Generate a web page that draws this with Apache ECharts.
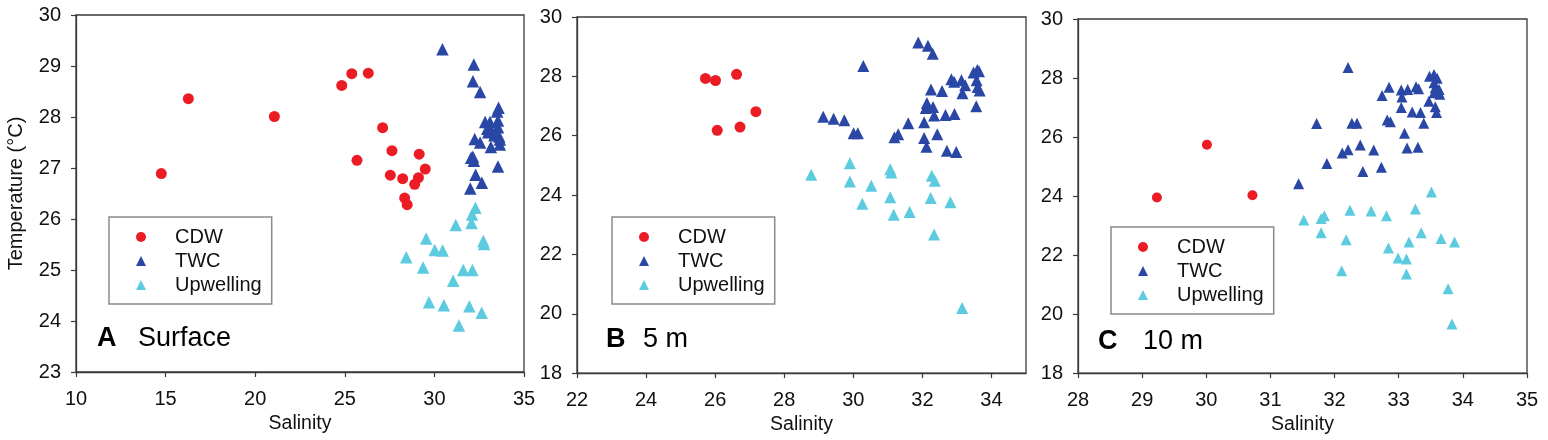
<!DOCTYPE html>
<html>
<head>
<meta charset="utf-8">
<script src="https://cdn.jsdelivr.net/npm/echarts@6/dist/echarts.min.js"></script>
<style>
html,body{margin:0;padding:0;background:#fff;}
#chart{width:1548px;height:440px;}
</style>
</head>
<body>
<div id="chart"></div>
<script>
// ---------- Data (Salinity, Temperature °C) ----------
const seriesNames = ['CDW', 'TWC', 'Upwelling'];
const panelLetters = ['A', 'B', 'C'];
const panelTitles = ['Surface', '5 m', '10 m'];

// Panel A: Surface
const cdwA = [[14.76,26.89],[16.27,28.36],[21.07,28.01],[24.83,28.62],[25.39,28.85],[26.31,28.86],
  [25.68,27.15],[27.11,27.79],[27.63,27.34],[27.54,26.86],[28.23,26.79],[28.34,26.41],[28.48,26.28],
  [29.15,27.27],[29.49,26.98],[29.11,26.81],[28.9,26.68]];
const twcA = [[30.45,29.33],[32.2,29.03],[32.15,28.7],[32.55,28.49],[33.58,28.18],[33.5,28.11],
  [32.83,27.9],[33.1,27.9],[33.55,27.93],[32.95,27.77],[33.2,27.72],[33.4,27.68],[33.55,27.8],
  [33.62,27.62],[33.65,27.56],[33.35,27.64],[33.0,27.7],[32.25,27.57],[32.55,27.5],[33.15,27.41],
  [33.65,27.46],[32.05,27.2],[32.15,27.22],[32.2,27.14],[33.55,27.03],[32.3,26.87],[32.65,26.71],[32.0,26.6]];
const upwA = [[28.43,25.25],[29.54,25.62],[30.02,25.39],[30.46,25.38],[29.37,25.05],[31.19,25.88],
  [32.07,25.92],[32.1,26.09],[32.29,26.22],[32.73,25.57],[32.77,25.51],[31.61,25.0],[32.12,25.0],
  [31.05,24.79],[29.7,24.37],[30.53,24.31],[31.95,24.29],[32.64,24.16],[31.37,23.91]];

// Panel B: 5 m
const cdwB = [[25.72,27.93],[26.01,27.86],[26.62,28.07],[26.06,26.18],[26.72,26.29],[27.18,26.81]];
const twcB = [[31.88,29.14],[32.16,29.03],[32.3,28.76],[30.29,28.35],[29.13,26.64],[29.43,26.57],
  [29.74,26.52],[30.01,26.08],[30.13,26.08],[31.19,25.95],[31.3,26.05],[31.59,26.42],[32.05,26.45],
  [32.05,25.92],[32.12,25.63],[32.43,26.05],[32.34,26.68],[32.67,26.7],[32.93,26.73],[32.71,25.49],
  [32.98,25.45],[32.13,27.1],[32.1,26.93],[32.31,26.97],[32.25,27.56],[32.57,27.51],[32.84,27.9],
  [32.92,27.82],[33.13,27.87],[33.24,27.7],[33.16,27.43],[33.48,28.13],[33.59,28.21],[33.64,28.17],
  [33.57,27.87],[33.6,27.64],[33.66,27.52],[33.56,26.99]];
const upwB = [[28.78,24.68],[29.9,25.07],[29.9,24.46],[30.52,24.31],[30.26,23.71],[31.07,24.87],
  [31.1,24.76],[31.07,23.93],[31.17,23.34],[31.63,23.43],[32.27,24.65],[32.36,24.48],[32.24,23.9],
  [32.81,23.76],[32.34,22.67],[33.15,20.19]];

// Panel C: 10 m
const cdwC = [[29.23,23.95],[30.01,25.74],[30.72,24.03]];
const twcC = [[32.21,28.36],[31.44,24.42],[31.72,26.46],[31.88,25.1],[32.12,25.46],[32.21,25.57],
  [32.27,26.47],[32.35,26.47],[32.4,25.73],[32.44,24.83],[32.61,25.56],[32.73,24.98],[32.74,27.41],
  [32.85,27.69],[32.82,26.58],[32.87,26.52],[33.04,27.59],[33.05,27.36],[33.14,27.61],[33.04,27.0],
  [33.09,26.13],[33.13,25.63],[33.3,25.65],[33.21,26.85],[33.34,26.83],[33.39,26.47],[33.27,27.7],
  [33.31,27.64],[33.47,27.21],[33.48,28.06],[33.55,28.12],[33.6,27.99],[33.55,27.84],[33.57,27.67],
  [33.63,27.61],[33.64,27.45],[33.55,27.5],[33.57,27.03],[33.59,26.83]];
const upwC = [[31.52,23.19],[31.79,23.24],[31.84,23.33],[31.79,22.76],[32.24,23.52],[32.18,22.52],
  [32.11,21.47],[32.57,23.49],[32.81,23.33],[32.84,22.24],[32.99,21.9],[33.12,21.87],[33.12,21.36],
  [33.16,22.44],[33.26,23.56],[33.35,22.76],[33.51,24.14],[33.66,22.56],[33.87,22.44],[33.77,20.86],[33.83,19.66]];

// Axis ranges / ticks
const xMin = [10, 22, 28], xMax = [35, 35, 35], xStep = [5, 2, 1];
const yMin = [23, 18, 18], yMax = [30, 30, 30], yStep = [1, 2, 2];
const xTitle = 'Salinity';
const yTitle = 'Temperature (\u00B0C)';

// ---------- Layout / style ----------
const FONT = '"Liberation Sans", Arial, sans-serif';
const colors = ['#ec1c24', '#2a47a6', '#5ccbe0'];
const grids = [
  {left: 76, top: 15, width: 448, height: 357},
  {left: 577, top: 17, width: 449, height: 356.5},
  {left: 1078, top: 19, width: 449, height: 357}
];
const legendPos = [{left: 109, top: 217}, {left: 612, top: 217}, {left: 1111, top: 227}];
const labelPos = [{x: 97, tx: 138, y: 340}, {x: 606, tx: 643, y: 341}, {x: 1098, tx: 1143, y: 343}];
const circleSize = [11, 11, 10];
const triSize = [12.5, 12, 11];

const panels = [[cdwA, twcA, upwA], [cdwB, twcB, upwB], [cdwC, twcC, upwC]];

const chart = echarts.init(document.getElementById('chart'), null, {renderer: 'canvas'});

const option = {
  backgroundColor: '#ffffff',
  animation: false,
  textStyle: {fontFamily: FONT},
  grid: grids.map(g => Object.assign({show: true, borderColor: '#3a3a3a', borderWidth: 1.3, backgroundColor: 'transparent'}, g)),
  xAxis: grids.map((g, i) => ({
    gridIndex: i, type: 'value', min: xMin[i], max: xMax[i], interval: xStep[i],
    name: xTitle, nameLocation: 'middle', nameGap: 41,
    nameTextStyle: {fontSize: 19.5, color: '#111', fontFamily: FONT},
    axisLine: {show: true, onZero: false, lineStyle: {color: '#3a3a3a', width: 1.3}},
    axisTick: {show: true, inside: false, length: 5, lineStyle: {color: '#3a3a3a', width: 1.2}},
    axisLabel: {fontSize: 20, color: '#111', margin: 17, fontFamily: FONT, showMaxLabel: i !== 1},
    splitLine: {show: false}
  })),
  yAxis: grids.map((g, i) => ({
    gridIndex: i, type: 'value', min: yMin[i], max: yMax[i], interval: yStep[i],
    name: i === 0 ? yTitle : '', nameLocation: 'middle', nameGap: 50,
    nameTextStyle: {fontSize: 20, color: '#111', fontFamily: FONT},
    axisLine: {show: true, onZero: false, lineStyle: {color: '#3a3a3a', width: 1.3}},
    axisTick: {show: true, inside: false, length: 5, lineStyle: {color: '#3a3a3a', width: 1.2}},
    axisLabel: {fontSize: 20, color: '#111', margin: 15, fontFamily: FONT},
    splitLine: {show: false}
  })),
  legend: legendPos.map((p, i) => ({
    show: true, orient: 'vertical', left: p.left, top: p.top,
    data: seriesNames.map((n, k) => ({name: n, icon: k === 0 ? 'circle' : 'triangle'})),
    itemWidth: 10, itemHeight: 10, itemGap: 4,
    padding: [10, 10, 9, 27],
    borderColor: '#8a8a8a', borderWidth: 1.5,
    selectedMode: false,
    textStyle: {fontSize: 20, color: '#111', fontFamily: FONT, lineHeight: 20, padding: [0, 0, 0, 24]}
  })),
  series: [],
  graphic: []
};

panels.forEach((sets, i) => {
  sets.forEach((data, k) => {
    option.series.push({
      type: 'scatter', name: seriesNames[k], xAxisIndex: i, yAxisIndex: i,
      data: data,
      symbol: k === 0 ? 'circle' : 'triangle',
      symbolSize: k === 0 ? circleSize[i] : triSize[i],
      itemStyle: {color: colors[k], opacity: 1},
      emphasis: {disabled: true}
    });
  });
  const lp = labelPos[i];
  option.graphic.push({
    type: 'text', left: lp.x, top: lp.y - 15,
    style: {text: panelLetters[i], font: 'bold 27px ' + FONT, fill: '#000'}
  });
  option.graphic.push({
    type: 'text', left: lp.tx, top: lp.y - 15,
    style: {text: panelTitles[i], font: '27px ' + FONT, fill: '#000'}
  });
});

chart.setOption(option);
</script>
</body>
</html>
